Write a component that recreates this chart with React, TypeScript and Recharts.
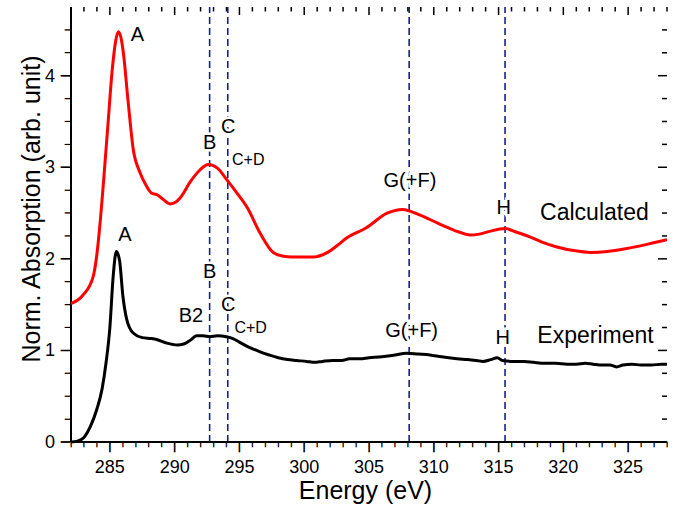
import React from 'react';
import { LineChart, Line, XAxis, YAxis, ReferenceLine, ReferenceDot } from 'recharts';

// Calculated spectrum (red)
const calcEnergy = [
  282.0, 282.9, 283.7, 284.0, 284.25, 284.8, 285.2, 285.45, 285.65, 285.85, 286.05, 286.4, 286.8,
  287.3, 287.8, 288.2, 288.65, 289.1, 289.65, 290.1, 290.45, 291.2, 291.95, 292.6, 293.3, 294.05,
  294.8, 295.6, 296.6, 297.6, 298.3, 299.1, 300.0, 300.7, 301.8, 302.5, 303.3, 304.8, 306.4, 307.6,
  308.9, 310.3, 311.1, 312.0, 312.8, 313.5, 314.3, 315.5, 316.4, 317.4, 318.4, 319.5, 320.8, 322.1,
  323.4, 324.8, 326.8, 328.0,
];
const calcAbs = [
  1.51, 1.6, 1.8, 2.05, 2.4, 3.37, 4.09, 4.38, 4.48, 4.42, 4.24, 3.73, 3.2,
  2.95, 2.8, 2.72, 2.7, 2.65, 2.6, 2.62, 2.67, 2.84, 2.97, 3.03, 2.99, 2.86,
  2.72, 2.56, 2.28, 2.07, 2.03, 2.02, 2.02, 2.02, 2.07, 2.14, 2.23, 2.34, 2.5, 2.54,
  2.48, 2.39, 2.34, 2.29, 2.26, 2.27, 2.3, 2.33, 2.29, 2.24, 2.18, 2.13, 2.09, 2.07,
  2.08, 2.11, 2.17, 2.21,
];

// Experimental spectrum (black)
const expEnergy = [
  282.0, 282.5, 283.0, 283.5, 284.0, 284.4, 284.7, 285.0, 285.25, 285.5, 285.75, 286.0, 286.3,
  286.8, 287.5, 288.2, 288.6, 289.4, 290.2, 290.7, 291.2, 291.7, 292.2, 292.7, 293.3, 294.0,
  294.5, 295.0, 295.8, 296.5, 297.3, 298.0, 298.7, 299.4, 300.2, 300.8, 301.4, 302.2, 302.9,
  303.5, 304.3, 305.0, 306.0, 307.0, 307.9, 308.8, 309.7, 310.6, 311.8, 312.6, 313.3, 313.8,
  314.4, 314.9, 315.3, 316.2, 317.0, 317.7, 318.6, 319.4, 320.3, 321.0, 321.7, 322.3, 323.0,
  323.6, 324.1, 324.6, 325.3, 326.0, 326.8, 327.6, 328.0,
];
const expAbs = [
  0.0, 0.01, 0.05, 0.17, 0.36, 0.58, 0.86, 1.25, 1.8, 2.08, 1.98, 1.6, 1.34,
  1.19, 1.14, 1.13, 1.12, 1.08, 1.06, 1.07, 1.11, 1.16, 1.16, 1.15, 1.16, 1.15,
  1.13, 1.09, 1.03, 0.99, 0.95, 0.92, 0.9, 0.89, 0.88, 0.87, 0.88, 0.89, 0.89,
  0.91, 0.91, 0.92, 0.93, 0.95, 0.97, 0.96, 0.95, 0.93, 0.91, 0.9, 0.89, 0.88,
  0.9, 0.92, 0.89, 0.88, 0.88, 0.87, 0.86, 0.86, 0.85, 0.85, 0.86, 0.85, 0.84,
  0.84, 0.82, 0.84, 0.85, 0.84, 0.84, 0.85, 0.85,
];

// dashed markers B, C, G(+F), H
const markerEnergy = [292.7, 294.1, 308.1, 315.5];

// peak labels
const labelText = ['A', 'B', 'C', 'C+D', 'G(+F)', 'H', 'Calculated', 'A', 'B2', 'B', 'C', 'C+D', 'G(+F)', 'H', 'Experiment'];
const labelEnergy = [287.13, 292.7, 294.14, 295.68, 308.16, 315.4, 322.4, 286.17, 291.26, 292.7, 294.14, 295.87, 308.29, 315.33, 322.48];
const labelAbs = [4.45, 3.28, 3.45, 3.09, 2.86, 2.57, 2.51, 2.27, 1.39, 1.87, 1.51, 1.25, 1.22, 1.15, 1.17];

const X_MIN = 282;
const X_MAX = 328;
const Y_MIN = 0;
const Y_MAX = 4.75;
const xTicks = Array.from({ length: 47 }, (_, i) => 282 + i);
const yTicks = Array.from({ length: 19 }, (_, i) => i * 0.25);

const calcData = calcEnergy.map((x, i) => ({ x, y: calcAbs[i] }));
const expData = expEnergy.map((x, i) => ({ x, y: expAbs[i] }));

const FONT = '"Liberation Sans", Arial, sans-serif';
const INK = '#000';
const MARKER = '#1a1f8c';

// the frame is 596 x 435 px; the plot area is padded left and below it
const PX_X = (X_MAX - X_MIN) / 596;
const PX_Y = (Y_MAX - Y_MIN) / 435;
const PAD_LEFT = 9;
const PAD_BOTTOM = 8;
const xDomain = [X_MIN - PAD_LEFT * PX_X, X_MAX];
const yDomain = [Y_MIN - PAD_BOTTOM * PX_Y, Y_MAX];

// outward tick mark drawn as a "|" glyph centred on (cx, cy)
const GlyphTick = ({ cx, cy, len, horizontal }: { cx: number; cy: number; len: number; horizontal?: boolean }) => (
  <text
    x={cx}
    y={cy}
    transform={horizontal ? `rotate(90, ${cx}, ${cy})` : undefined}
    textAnchor="middle"
    dominantBaseline="central"
    fontSize={len / 0.94}
    fontFamily={FONT}
    fill={INK}
    stroke={INK}
    strokeWidth={0.7}
  >
    |
  </text>
);

const bottomTick = (p: any) => {
  const x = Number(p.x);
  const axisY = Number(p.y) - PAD_BOTTOM;
  const major = p.payload.value % 5 === 0;
  const len = major ? 8 : 4.5;
  return (
    <g>
      <GlyphTick cx={x} cy={axisY + len / 2 + 0.5} len={len} />
      {major && (
        <text x={x} y={axisY + 31} textAnchor="middle" fontSize={18} fontFamily={FONT} fill={INK}>
          {p.payload.value}
        </text>
      )}
    </g>
  );
};

const leftTick = (p: any) => {
  const axisX = Number(p.x) + PAD_LEFT;
  const y = Number(p.y);
  const major = p.payload.value % 1 === 0;
  const len = major ? 9 : 5;
  return (
    <g>
      <GlyphTick cx={axisX - len / 2 - 0.5} cy={y} len={len} horizontal />
      {major && (
        <text x={axisX - 16} y={y + 6} textAnchor="end" fontSize={18} fontFamily={FONT} fill={INK}>
          {p.payload.value}
        </text>
      )}
    </g>
  );
};

const labelSize = (t: string) => (t === 'C+D' ? 16 : t.length > 6 ? 23 : 20);

const seg = (key: string, a: { x: number; y: number }, b: { x: number; y: number }, w = 1.5) => (
  <ReferenceLine key={key} xAxisId="b" yAxisId="l" segment={[a, b]} stroke={INK} strokeWidth={w} ifOverflow="visible" />
);

export default function App() {
  return (
    <div style={{ width: 676, height: 511 }}>
      <style>{'body{margin:0}'}</style>
      <LineChart width={676} height={511} margin={{ top: 7, right: 9, bottom: 0, left: 0 }}>
        <XAxis
          xAxisId="b"
          dataKey="x"
          type="number"
          domain={xDomain}
          allowDataOverflow
          ticks={xTicks}
          interval={0}
          tickSize={0}
          tickMargin={0}
          tickLine={false}
          tick={bottomTick}
          height={61}
          axisLine={false}
          label={{
            content: (p: any) => (
              <text
                x={p.viewBox.x + p.viewBox.width / 2 + 1}
                y={p.viewBox.y + 49}
                textAnchor="middle"
                fontSize={25}
                fontFamily={FONT}
                fill={INK}
              >
                Energy (eV)
              </text>
            ),
          }}
        />
        <XAxis
          xAxisId="t"
          orientation="top"
          dataKey="x"
          type="number"
          domain={xDomain}
          allowDataOverflow
          tick={false}
          tickLine={false}
          height={0}
          axisLine={{ stroke: INK, strokeWidth: 2 }}
        />
        <YAxis
          yAxisId="l"
          type="number"
          domain={yDomain}
          allowDataOverflow
          ticks={yTicks}
          interval={0}
          tickSize={0}
          tickMargin={0}
          tickLine={false}
          tick={leftTick}
          width={62}
          axisLine={false}
          label={{
            content: () => (
              <text
                transform="translate(40, 209) rotate(-90)"
                textAnchor="middle"
                fontSize={25}
                fontFamily={FONT}
                fill={INK}
              >
                Norm. Absorption (arb. unit)
              </text>
            ),
          }}
        />
        <YAxis
          yAxisId="r"
          orientation="right"
          type="number"
          domain={yDomain}
          allowDataOverflow
          tick={false}
          tickLine={false}
          width={0}
          axisLine={{ stroke: INK, strokeWidth: 2 }}
        />
        {markerEnergy.map((e) => (
          <ReferenceLine
            key={e}
            xAxisId="b"
            yAxisId="l"
            segment={[
              { x: e, y: Y_MIN },
              { x: e, y: Y_MAX },
            ]}
            stroke={MARKER}
            strokeWidth={1.6}
            strokeDasharray="7 4"
          />
        ))}
        {seg('frame-bottom', { x: X_MIN, y: Y_MIN }, { x: X_MAX, y: Y_MIN }, 2)}
        {seg('frame-left', { x: X_MIN, y: Y_MIN }, { x: X_MIN, y: Y_MAX }, 2)}
        {xTicks.map((v) => seg(`xt${v}`, { x: v, y: Y_MAX }, { x: v, y: Y_MAX - (v % 5 === 0 ? 8 : 4.5) * PX_Y }))}
        {yTicks.map((v) => seg(`yr${v}`, { x: X_MAX, y: v }, { x: X_MAX - (v % 1 === 0 ? 9 : 5) * PX_X, y: v }))}
        <Line
          xAxisId="b"
          yAxisId="l"
          data={expData}
          dataKey="y"
          type="monotone"
          stroke="#000"
          strokeWidth={3}
          dot={false}
          isAnimationActive={false}
        />
        <Line
          xAxisId="b"
          yAxisId="l"
          data={calcData}
          dataKey="y"
          type="monotone"
          stroke="#ff0000"
          strokeWidth={3}
          dot={false}
          isAnimationActive={false}
        />
        {labelText.map((t, i) => (
          <ReferenceDot
            key={i}
            xAxisId="b"
            yAxisId="l"
            x={labelEnergy[i]}
            y={labelAbs[i]}
            r={0}
            ifOverflow="visible"
            shape={(p: any) => (
              <text
                x={p.cx}
                y={p.cy}
                dominantBaseline="central"
                textAnchor="middle"
                fontSize={labelSize(t)}
                fontFamily={FONT}
                fill={INK}
                stroke="#fff"
                strokeWidth={5}
                paintOrder="stroke"
              >
                {t}
              </text>
            )}
          />
        ))}
      </LineChart>
    </div>
  );
}
